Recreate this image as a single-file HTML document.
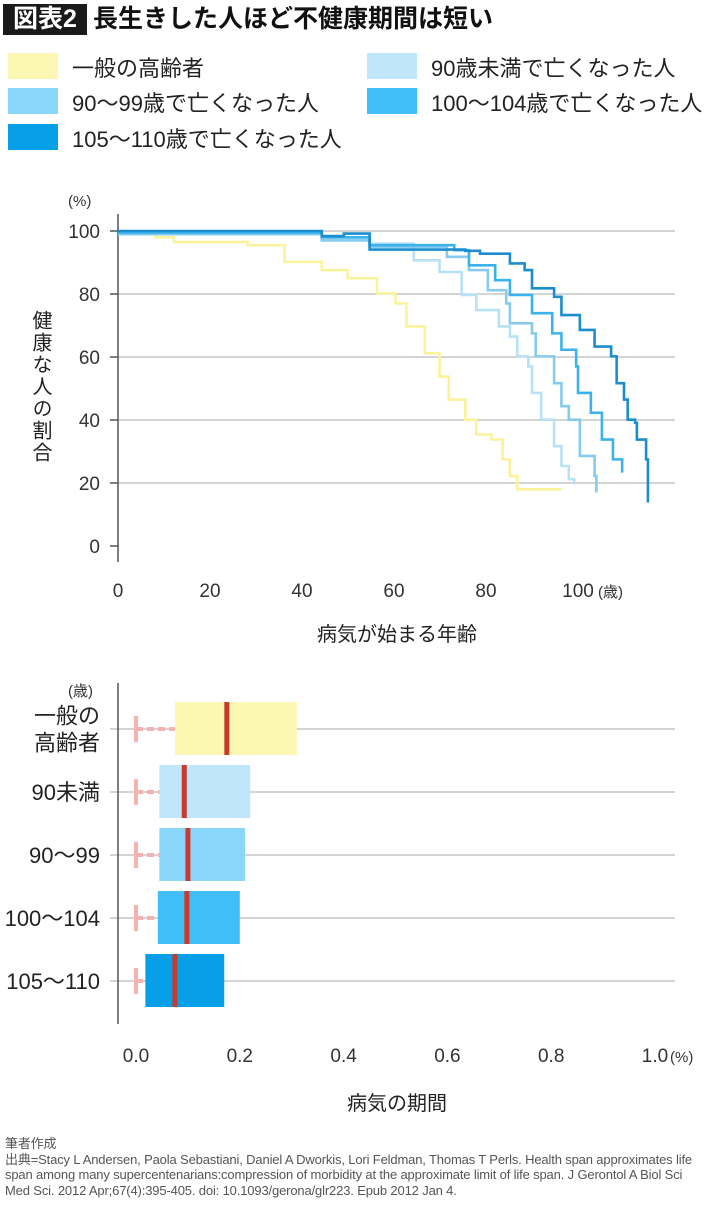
<!DOCTYPE html>
<html><head><meta charset="utf-8"><style>
body{margin:0;background:#fff;width:710px;height:1206px;overflow:hidden;font-family:"Liberation Sans","Noto Sans CJK JP",sans-serif;color:#222}
.abs{position:absolute}
</style></head><body>
<div style="position:relative;width:710px;height:1206px">
<div class="abs" style="left:3px;top:4px;width:84px;height:31px;background:#1a1a1a;color:#fff;font-size:25px;font-weight:bold;line-height:31px;text-align:center">図表2</div>
<div class="abs" style="left:93px;top:3px;font-size:25px;font-weight:bold;line-height:33px;color:#111">長生きした人ほど不健康期間は短い</div>
<div>
<div class="abs" style="left:8px;top:53px;width:50px;height:26px;background:#fdf7b4"></div>
<div class="abs" style="left:72px;top:51px;font-size:22px">一般の高齢者</div>
<div class="abs" style="left:367px;top:53px;width:50px;height:26px;background:#bfe6fb"></div>
<div class="abs" style="left:431px;top:51px;font-size:22px">90歳未満で亡くなった人</div>
<div class="abs" style="left:8px;top:88px;width:50px;height:26px;background:#8ad6fb"></div>
<div class="abs" style="left:72px;top:86px;font-size:22px">90〜99歳で亡くなった人</div>
<div class="abs" style="left:367px;top:88px;width:50px;height:26px;background:#40bef7"></div>
<div class="abs" style="left:431px;top:86px;font-size:22px">100〜104歳で亡くなった人</div>
<div class="abs" style="left:8px;top:124px;width:50px;height:26px;background:#07a0e8"></div>
<div class="abs" style="left:72px;top:122px;font-size:22px">105〜110歳で亡くなった人</div>
</div>
<svg id="top" class="abs" style="left:0;top:0" width="710" height="660"></svg>
<svg id="bot" class="abs" style="left:0;top:660px" width="710" height="470"></svg>
<div class="abs" style="left:5px;top:1136px;font-size:13px;line-height:15.5px;color:#555;letter-spacing:-0.15px;width:708px;white-space:nowrap">筆者作成<br>出典=Stacy L Andersen, Paola Sebastiani, Daniel A Dworkis, Lori Feldman, Thomas T Perls. Health span approximates life<br>span among many supercentenarians:compression of morbidity at the approximate limit of life span. J Gerontol A Biol Sci<br>Med Sci. 2012 Apr;67(4):395-405. doi: 10.1093/gerona/glr223. Epub 2012 Jan 4.</div>
</div>
<script>
const NS='http://www.w3.org/2000/svg';
function mk(p,t,a){const e=document.createElementNS(NS,t);for(const k in a)e.setAttribute(k,a[k]);p.appendChild(e);return e;}
// ---- top chart data ----
const xTicks=[0,20,40,60,80,100];
const yTicks=[0,20,40,60,80,100];
const generalAges=[0,8.2,12.2,28.2,36.2,44.3,49.9,56.3,60.3,62.7,66.7,69.9,71.9,75.5,77.9,81.2,83.6,85.2,86.8,96.4];
const generalPct=[99,98,96.5,95.5,90.2,87.6,85,80.2,77,69.7,61.2,53.8,46.5,40.1,35.4,33.8,27.5,22.2,18,18];
const under90Ages=[0,44.3,54.7,64.3,69.9,74.7,77.9,82.8,85.2,86.8,89.2,90,92,94.8,96.4,98,99.2];
const under90Pct=[99,97.5,96,90.7,87,79.7,74.9,69.7,66.5,60.2,57,48.6,40.1,31.7,25.4,21.2,19.6];
const g9099Ages=[0,44.3,54.7,71.5,76.3,80.4,84.4,85.2,90,90.8,94.8,96.4,98,100.4,103.6,104];
const g9099Pct=[99,97,95,91.8,87.6,81.2,77,70.7,67.5,60.2,51.7,44.4,40.1,28.6,22.2,17];
const g100Ages=[0,44.3,54.7,73.1,76.3,82,85.2,90,94.4,96.4,99.6,100,102.8,105.2,107.6,109.6];
const g100Pct=[99.5,98,95.5,93.9,89.1,84.4,79.7,73.9,67.5,62.3,57,48.6,42.3,33.8,27.5,23.3];
const g105Ages=[0,44.3,49.1,54.7,75.5,78.7,85.2,88.4,90,94.8,96.4,100.4,103.6,107.2,108.4,110,110.8,112.4,112.8,114.8,115.2];
const g105Pct=[100,98.4,99.2,94.1,93.7,92.8,89.7,87.6,81.8,79.1,73.3,68.6,63.3,60.2,51.7,46.5,40.1,39.1,33.8,27.5,13.8];
const X=a=>118+a*4.6, Y=p=>546-p*3.15;
const T=document.getElementById('top');
yTicks.forEach(v=>{
 if(v>0){const l=mk(T,'line',{x1:118,x2:675,y1:Y(v),y2:Y(v),stroke:'#bbb','stroke-width':1.2});}
 const tk=mk(T,'line',{x1:110,x2:118,y1:Y(v),y2:Y(v),stroke:'#555','stroke-width':1.5});
 const t=mk(T,'text',{x:100,y:Y(v)+7,'text-anchor':'end','font-size':19,fill:'#333'});t.textContent=v;
});
xTicks.forEach(v=>{const t=mk(T,'text',{x:X(v),y:597,'text-anchor':'middle','font-size':19,fill:'#333'});t.textContent=v;});
let u=mk(T,'text',{x:598,y:597,'font-size':15,fill:'#333'});u.textContent='(歳)';
u=mk(T,'text',{x:68,y:206,'font-size':15,fill:'#333'});u.textContent='(%)';
const ax=mk(T,'line',{x1:118,x2:118,y1:214,y2:562,stroke:'#555','stroke-width':1.5});
const yt=mk(T,'text',{x:40,y:310,'font-size':20,fill:'#222','writing-mode':'tb','glyph-orientation-vertical':0,'letter-spacing':2});yt.textContent='健康な人の割合';
const xt=mk(T,'text',{x:397,y:641,'text-anchor':'middle','font-size':20,fill:'#222'});xt.textContent='病気が始まる年齢';
const series=[[generalAges,generalPct,'#fbf39c','line-general'],[under90Ages,under90Pct,'#b8e1f6','line-under90'],[g9099Ages,g9099Pct,'#86cbee','line-90-99'],[g100Ages,g100Pct,'#3cb2ec','line-100-104'],[g105Ages,g105Pct,'#1c8dcd','line-105-110']];
series.forEach(s=>{let d='M'+X(s[0][0])+','+Y(s[1][0]);for(let i=1;i<s[0].length;i++){d+='H'+X(s[0][i])+'V'+Y(s[1][i]);}
 const p=mk(T,'path',{d:d,fill:'none',stroke:s[2],'stroke-width':2.6});});
// ---- bottom chart data ----
const groups=['一般の\n高齢者','90未満','90〜99','100〜104','105〜110'];
const q1=[0.075,0.045,0.045,0.042,0.018];
const q3=[0.31,0.22,0.21,0.20,0.17];
const med=[0.175,0.093,0.10,0.098,0.075];
const wlo=[0,0,0,0,0];
const bTicks=[0,0.2,0.4,0.6,0.8,1.0];
const fills=['#fdf7b4','#bfe6fb','#8ad6fb','#40bef7','#07a0e8'];
const B=document.getElementById('bot');
const BX=v=>136+v*519, RY=i=>69+i*63;
groups.forEach((g,i)=>{
 const y=RY(i);
 let l=mk(B,'line',{x1:110,x2:675,y1:y,y2:y,stroke:'#bbb','stroke-width':1.2});
 l=mk(B,'line',{x1:BX(wlo[i]),x2:BX(q1[i]),y1:y,y2:y,stroke:'#f4b2b0','stroke-width':4,'stroke-dasharray':'7,4'});
 l=mk(B,'line',{x1:BX(wlo[i]),x2:BX(wlo[i]),y1:y-13,y2:y+13,stroke:'#f4b2b0','stroke-width':4});
 const r=mk(B,'rect',{x:BX(q1[i]),y:y-27,width:BX(q3[i])-BX(q1[i]),height:53,fill:fills[i]});
 const m=mk(B,'rect',{x:BX(med[i])-2.5,y:y-27,width:5,height:53,fill:'#c9392c'});
 const lines=g.split('\n');
 lines.forEach((ln,j)=>{const t=mk(B,'text',{x:100,y:y+8+(lines.length>1?(j-0.5)*27:0),'text-anchor':'end','font-size':22,fill:'#222'});t.textContent=ln;});
});
let ba=mk(B,'line',{x1:118,x2:118,y1:23,y2:364,stroke:'#555','stroke-width':1.5});
u=mk(B,'text',{x:68,y:36,'font-size':15,fill:'#333'});u.textContent='(歳)';
bTicks.forEach(v=>{const t=mk(B,'text',{x:BX(v),y:402,'text-anchor':'middle','font-size':19,fill:'#333'});t.textContent=v.toFixed(1);});
u=mk(B,'text',{x:670,y:402,'font-size':15,fill:'#333'});u.textContent='(%)';
const bt=mk(B,'text',{x:397,y:450,'text-anchor':'middle','font-size':20,fill:'#222'});bt.textContent='病気の期間';
</script>
</body></html>
